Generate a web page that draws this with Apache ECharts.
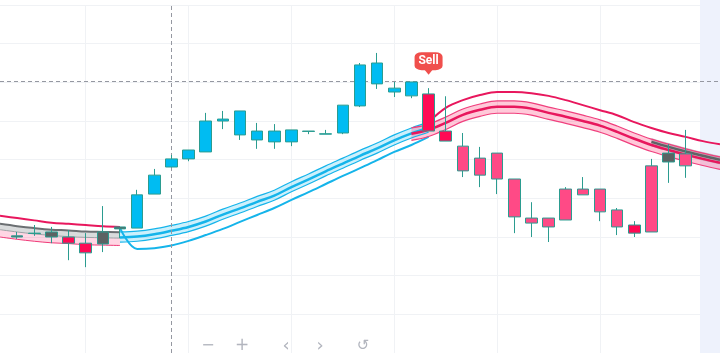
<!DOCTYPE html>
<html>
<head>
<meta charset="utf-8">
<script src="https://cdn.jsdelivr.net/npm/echarts@6/dist/echarts.min.js"></script>
<style>
  html, body { margin: 0; padding: 0; background: #fff; }
  #main { width: 720px; height: 353px; }
</style>
</head>
<body>
<div id="main"></div>
<script>
// candles (one per bar, category index = i + 1)
var opens  = [130.0,130.9,131.3,130.0,128.4,128.2,132.6,132.3,141.1,148.1,150.2,152.0,160.0,162.6,155.1,157.4,154.6,157.3,156.6,156.9,163.9,175.0,168.5,166.5,167.0,157.4,153.5,146.0,151.7,145.0,134.9,132.6,134.4,140.9,142.4,137.0,133.1,131.3,149.4,151.5];
var closes = [130.3,131.0,130.0,128.4,125.9,131.3,132.1,140.9,146.0,150.2,152.5,160.0,160.5,156.4,157.4,154.6,157.7,157.4,156.7,164.1,174.5,169.6,167.5,170.1,157.4,154.8,147.1,150.4,145.0,135.2,133.6,134.9,142.4,142.4,136.5,132.6,131.0,148.4,151.7,148.4];
var lows   = [129.5,130.3,128.4,124.0,122.2,126.1,129.7,132.3,141.1,148.1,149.6,152.0,157.9,155.1,152.8,152.8,153.5,156.6,156.6,156.6,163.6,168.3,166.2,165.9,157.4,154.8,145.5,142.9,141.1,131.0,130.0,128.7,134.4,140.9,134.1,130.5,130.0,131.3,144.0,145.3];
var highs  = [131.3,133.1,132.6,131.8,131.0,138.0,132.6,142.2,147.6,151.2,152.5,162.1,162.6,162.6,159.5,159.2,157.7,157.4,157.7,164.1,175.0,177.6,170.1,170.1,168.5,166.4,156.9,153.3,151.7,145.0,139.0,134.9,142.9,145.5,142.4,137.5,134.1,150.2,154.0,157.7];
var trend  = ['flat','flat','flat','bear','bear','flat','flat','bull','bull','bull','bull','bull','bull','bull','bull','bull','bull','bull','bull','bull','bull','bull','bull','bull','bear','bear','weak','weak','weak','weak','weak','weak','weak','weak','weak','weak','bear','weak','flat','weak'];

// left (neutral) band, categories 0..7
var leftStart = 0;
var leftStop     = [135.5,134.9,134.3,133.7,133.4,133.1,132.8,132.6];
var leftGrayTop  = [133.4,132.8,132.3,131.9,131.7,131.4,131.3,131.2];
var leftGrayLow  = [131.9,131.3,130.8,130.4,130.1,129.9,129.8,129.7];
var leftPinkLow  = [130.0,129.4,128.9,128.5,128.3,128.0,127.9,127.8];

// bullish band, categories 7..25
var bullStart = 7;
var cyanTop  = [131.3,131.5,132.1,133.0,134.0,135.4,137.2,138.8,140.5,142.1,144.3,146.3,148.4,150.4,152.4,154.3,156.4,158.2,159.7];
var cyanMid  = [129.9,130.1,130.7,131.6,132.6,134.0,135.8,137.4,139.1,140.7,142.9,144.9,147.0,149.0,151.0,152.9,155.0,156.8,158.3];
var cyanLow  = [128.7,128.9,129.5,130.4,131.4,132.8,134.6,136.2,137.9,139.5,141.7,143.7,145.8,147.8,149.8,151.7,153.8,155.6,157.1];
var cyanStop = [132.3,126.9,127.1,127.8,129.0,130.5,132.1,133.9,135.7,137.5,139.6,141.6,143.7,145.8,147.8,149.9,152.0,153.8,155.9];

// bearish band, categories 24..42
var bearStart = 24;
var pinkTop = [158.2,159.2,161.0,163.1,164.4,165.2,165.2,164.7,163.6,162.6,161.5,160.3,158.7,156.9,155.3,154.0,152.8,151.7,150.7];
var pinkMid = [156.7,157.7,159.5,161.6,162.9,163.7,163.7,163.2,162.1,161.1,160.0,158.8,157.2,155.4,153.8,152.5,151.3,150.2,149.2];
var pinkLow = [155.0,156.0,157.8,159.9,161.2,162.0,162.0,161.5,160.4,159.4,158.3,157.1,155.5,153.7,152.1,150.8,149.6,148.5,147.5];
var stopStart = 25;
var pinkStop = [159.7,163.4,165.4,166.7,167.5,167.5,167.2,166.5,165.4,164.1,162.8,161.5,159.7,158.2,156.9,155.9,154.8,154.0];

// neutral overlay on the right, categories 38..42
var rightStart = 38;
var rightGrayTop = [155.6,154.3,153.1,152.0,151.0];
var rightGrayMid = [154.6,153.3,152.1,151.0,150.0];
var rightGrayLow = [153.4,152.1,150.9,149.8,148.8];

var N = 43;
var cats = [];
for (var i = 0; i < N; i++) cats.push(String(i));

var fillColors = { bull: '#00bcf2', bear: '#ff0a54', weak: '#ff4a86', flat: '#5d6263' };
var upBorder = '#2b9c90';
var downBorder = '#e8195f';

function pad(start, arr) {
  var out = [];
  for (var i = 0; i < N; i++) out.push('-');
  arr.forEach(function (v, k) { out[start + k] = v; });
  return out;
}

var candleData = ['-'];
for (var k = 0; k < opens.length; k++) {
  var c = fillColors[trend[k]];
  candleData.push({
    value: [opens[k], closes[k], lows[k], highs[k]],
    itemStyle: { color: c, color0: c, borderColor: upBorder, borderColor0: downBorder }
  });
}
while (candleData.length < N) candleData.push('-');

function line(start, arr, color, width) {
  return {
    type: 'line', data: pad(start, arr), symbol: 'none', smooth: 0.35,
    lineStyle: { color: color, width: width }, silent: true, z: 2
  };
}

// fill between two lines: invisible lower line + stacked difference with area
function bandFill(id, start, lower, upper, color) {
  var diff = upper.map(function (v, i) { return +(v - lower[i]).toFixed(2); });
  return [
    { type: 'line', stack: id, data: pad(start, lower), symbol: 'none', smooth: 0.35,
      lineStyle: { opacity: 0 }, silent: true, z: 1 },
    { type: 'line', stack: id, data: pad(start, diff), symbol: 'none', smooth: 0.35,
      lineStyle: { opacity: 0 }, areaStyle: { color: color, opacity: 1 }, silent: true, z: 1 }
  ];
}

var series = [].concat(
  bandFill('lg', leftStart, leftGrayLow, leftGrayTop, 'rgba(120,124,128,0.28)'),
  bandFill('lp', leftStart, leftPinkLow, leftGrayLow, 'rgba(255,70,130,0.22)'),
  bandFill('cy', bullStart, cyanLow, cyanTop, 'rgba(0,180,240,0.2)'),
  bandFill('pk', bearStart, pinkLow, pinkTop, 'rgba(255,60,120,0.28)'),
  bandFill('rg', rightStart, rightGrayLow, rightGrayTop, 'rgba(110,114,118,0.35)'),
  [
    line(leftStart, leftStop, '#e8175d', 2),
    line(leftStart, leftGrayTop, '#6b6f72', 2),
    line(leftStart, leftGrayLow, '#9ea3a6', 1),
    line(leftStart, leftPinkLow, '#ef3a78', 1),
    line(bullStart, cyanTop, '#15b4ea', 1.2),
    line(bullStart, cyanMid, '#15b4ea', 2.5),
    line(bullStart, cyanLow, '#15b4ea', 1.2),
    line(bullStart, cyanStop, '#15b4ea', 2),
    line(bearStart, pinkTop, '#f0407e', 1.2),
    line(bearStart, pinkMid, '#e8175d', 2.5),
    line(bearStart, pinkLow, '#f0407e', 1.2),
    line(stopStart, pinkStop, '#e8175d', 2),
    line(rightStart, rightGrayMid, '#5f6366', 2.5),
    {
      type: 'candlestick',
      data: candleData,
      barWidth: 12,
      z: 5,
      itemStyle: { borderWidth: 1 },
      markLine: {
        silent: true,
        symbol: ['none', 'none'],
        label: { show: false },
        lineStyle: { color: '#9598a1', type: [4, 3], width: 1 },
        data: [{ xAxis: 10 }, { yAxis: 170.3 }]
      },
      markPoint: {
        silent: true,
        data: [
          { coord: [25, highs[24]], symbol: 'triangle', symbolRotate: 180, symbolSize: [8, 5],
            symbolOffset: [0, -16], itemStyle: { color: '#f04f4c' }, label: { show: false } },
          { coord: [25, highs[24]], symbol: 'roundRect', symbolSize: [28, 18],
            symbolOffset: [0, -27], itemStyle: { color: '#f04f4c' },
            label: { show: true, formatter: 'Sell', color: '#fff', fontSize: 12,
              fontWeight: 'bold', fontFamily: 'Roboto' } }
        ]
      }
    }
  ]
);

var chart = echarts.init(document.getElementById('main'), null, { renderer: 'canvas' });
chart.setOption({
  animation: false,
  backgroundColor: '#ffffff',
  grid: { left: 0, right: -6, top: 5, bottom: 0 },
  xAxis: {
    type: 'category',
    data: cats,
    boundaryGap: false,
    axisLine: { show: false },
    axisTick: { show: false },
    axisLabel: { show: false },
    splitLine: {
      show: true,
      interval: function (index) { return index % 6 === 5; },
      lineStyle: { color: '#f0f2f5', width: 1 }
    }
  },
  yAxis: {
    type: 'value',
    position: 'right',
    min: 100,
    max: 190,
    interval: 10,
    axisLine: { show: false },
    axisTick: { show: false },
    axisLabel: { show: false },
    splitLine: { lineStyle: { color: '#f0f2f5', width: 1 } }
  },
  graphic: [
    { type: 'rect', z: 1, shape: { x: 700, y: 0, width: 20, height: 353 }, style: { fill: '#eef2fc' } },
    { type: 'text', z: 10, x: 208, y: 346, style: { text: '\u2212', fill: '#b2b5be', font: '16px "DejaVu Sans"', textAlign: 'center', textVerticalAlign: 'middle' } },
    { type: 'text', z: 10, x: 242, y: 346, style: { text: '+', fill: '#b2b5be', font: '17px "DejaVu Sans"', textAlign: 'center', textVerticalAlign: 'middle' } },
    { type: 'text', z: 10, x: 286, y: 346, style: { text: '\u2039', fill: '#b2b5be', font: '18px "DejaVu Sans"', textAlign: 'center', textVerticalAlign: 'middle' } },
    { type: 'text', z: 10, x: 320, y: 346, style: { text: '\u203a', fill: '#b2b5be', font: '18px "DejaVu Sans"', textAlign: 'center', textVerticalAlign: 'middle' } },
    { type: 'text', z: 10, x: 363, y: 346, style: { text: '\u21ba', fill: '#b2b5be', font: '15px "DejaVu Sans"', textAlign: 'center', textVerticalAlign: 'middle' } }
  ],
  series: series
});
</script>
</body>
</html>
